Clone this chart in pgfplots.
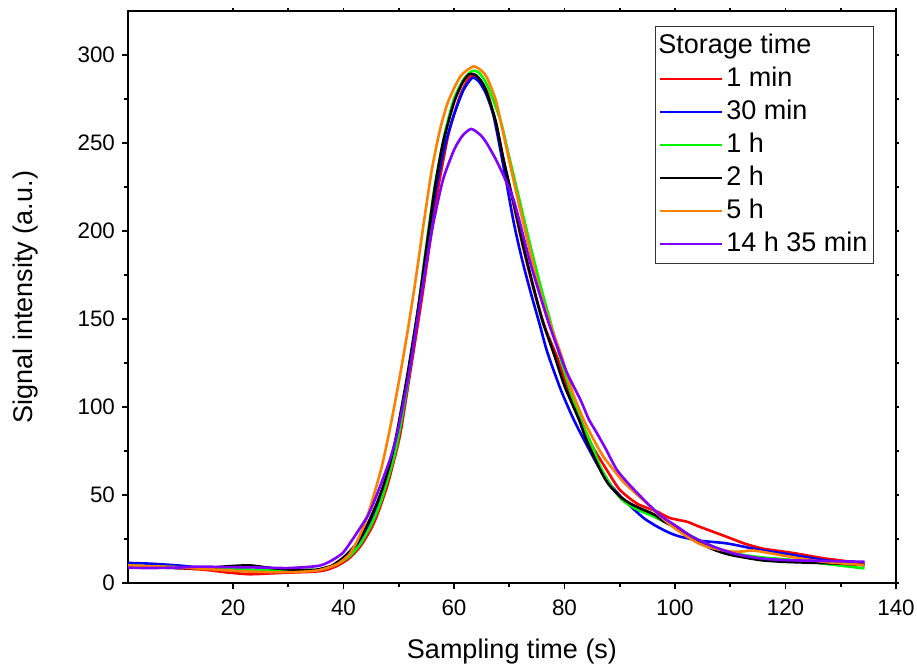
\documentclass[border=0pt]{standalone}
\usepackage{fontspec}
\setmainfont{Liberation Sans}
\usepackage{pgfplots}
\pgfplotsset{compat=1.18}
\definecolor{cRed}{RGB}{255,0,0}
\definecolor{cBlue}{RGB}{0,0,255}
\definecolor{cGreen}{RGB}{0,245,0}
\definecolor{cOrange}{RGB}{255,128,0}
\definecolor{cPurple}{RGB}{128,0,255}
\begin{document}
\begin{tikzpicture}
\begin{axis}[
  scale only axis, width=384pt, height=286pt,
  xmin=1, xmax=140, ymin=0, ymax=325,
  xtick={20,40,...,140}, ytick={0,50,...,300},
  minor x tick num=1, minor y tick num=1,
  tick pos=left, tick align=outside,
  major tick length=3pt, minor tick length=2pt,
  every tick/.style={black, line width=0.9pt},
  axis line style={line width=1pt},
  /pgf/number format/assume math mode=true,
  tick label style={font=\fontsize{11.2}{13}\selectfont},
  xticklabel style={yshift=-2pt},
  label style={font=\fontsize{13.5}{16}\selectfont},
  xlabel={Sampling time (s)}, ylabel={Signal intensity (a.u.)},
  xlabel style={at={(axis description cs:0.5,-0.1206)}, anchor=center},
  ylabel style={at={(axis description cs:-0.134,0.5)}, anchor=center},
  legend cell align=left,
  legend image code/.code={\draw[#1, line width=1.3pt] (0pt,0pt) -- (31pt,0pt);},
  legend style={at={(rel axis cs:1,1)}, anchor=north east, xshift=-11pt, yshift=-7.5pt,
    font=\fontsize{13.5}{16}\selectfont, draw=black!80, line width=0.6pt,
    inner sep=1.5pt, row sep=0pt,
    nodes={inner sep=1.5pt, text height=10.5pt, text depth=3pt}},
]
\addlegendimage{empty legend}
\addlegendentry{\hspace{-34pt}Storage time}
% 1 min
\addplot[cRed, line width=1.3pt, smooth, tension=0.4] coordinates {(1,10) (5,9.5) (10,8.5) (15,7.5) (19,6) (23,5) (27,5.5) (31,6) (35,6.5) (37,7.5) (39,10) (41,14) (43.1,21) (45.2,32) (46.5,42) (47.9,55) (49,68) (50.3,85) (52.1,120) (54.2,162) (55.5,190) (57,222) (59,255) (61,276) (62.5,286) (63.3,288) (64.5,286.5) (66,279) (67.5,262) (69,240) (70.8,215) (72.5,191) (74.4,167) (76.5,145) (78.7,128) (80.5,111) (82.9,93) (85,78) (87.7,64) (90,53) (93.2,45) (96.8,40.5) (99,37) (102.2,34.8) (104,32.5) (107,29) (110,25.5) (112.5,22.5) (116,19.5) (121.5,17) (127,14) (134.3,11.2)};
\addlegendentry{1 min}
% 30 min
\addplot[cBlue, line width=1.3pt, smooth, tension=0.4] coordinates {(1,11.4) (5,11) (10,10) (15,8.5) (20,7.5) (25,6.8) (30,6.4) (35,7.2) (37,8.5) (39,11.5) (41,16) (43,24) (45,35) (46.5,46) (47.8,58) (49,72) (50.3,90) (51.8,117) (53.3,150) (55,190) (56.7,223) (58.3,248) (60,266) (61.7,280) (63.3,287) (64.5,285) (65.8,278) (67.2,265) (69,236) (70.8,205) (72.3,184) (73.8,166) (75.5,147) (76.9,131) (79.3,110) (81.7,92.6) (84.1,78) (86,67) (88.3,56) (90.5,48) (92.5,42) (94.5,36.5) (96.8,32) (99,28.5) (101,26.3) (104.6,24) (109.4,22.5) (115.5,18.75) (121.5,15.9) (127,13) (134.3,10.2)};
\addlegendentry{30 min}
% 1 h
\addplot[cGreen, line width=1.3pt, smooth, tension=0.4] coordinates {(1,10) (5,9.5) (10,9) (15,8.5) (20,8) (25,7.5) (30,7.5) (35,7.5) (37,8.5) (39,11) (41,15) (43,22) (45,33) (46.5,44) (47.6,54.7) (49,70) (50,84) (51.7,115) (53.4,153) (55,192) (56.5,225) (58.3,255) (60,275) (61.7,286) (63.3,291) (64.5,290) (66,283) (68.4,263) (70,242) (72,215.7) (73.8,192) (75.7,168.4) (77.5,148) (79,130.5) (81,110) (82.9,92.6) (85,78) (86.5,66) (88.5,55) (90.5,47) (93,42) (96.2,37.7) (98.5,34) (101,30) (104,25) (107,20.6) (110,17.5) (112.5,15.9) (116,14.5) (121.5,13) (127,11) (134.3,8.3)};
\addlegendentry{1 h}
% 2 h
\addplot[black, line width=1.3pt, smooth, tension=0.4] coordinates {(1,9) (5,9) (10,8.5) (15,8.5) (19,9.5) (23,10) (27,8.5) (31,7.5) (35,7.5) (37,9) (38,10) (40,14.5) (42,21) (44,31) (46,45) (47.3,56) (48.5,69) (49.7,86) (51.5,117) (53.6,158) (55,190) (56.5,224) (58,250) (60,273) (61.5,284) (62.7,289) (64,288.5) (65.5,282) (67.5,263) (69,240) (70.8,216) (72.5,192) (74.4,168) (76,149) (78.1,130) (80,112) (82.6,93) (84,81) (86.5,64) (88,56) (90.1,49) (92,45) (94,42) (96.2,39) (98,35) (100.4,31) (103,25) (107,19) (110,16) (115.5,13) (120,12) (125,11.5) (130,11) (134.3,10.2)};
\addlegendentry{2 h}
% 5 h
\addplot[cOrange, line width=1.3pt, smooth, tension=0.4] coordinates {(1,10) (5,9.5) (10,9) (15,8) (20,7) (23,6.5) (27,6.2) (31,6.2) (35,7) (37,8.5) (39,11) (41,16) (42.5,24) (44,35) (45.5,50) (47,67) (48.5,89) (50,114) (51.5,141) (53,171) (54.5,204) (56,235) (57.5,258) (59,274) (61.2,288) (63.5,293.5) (65,291) (66,287) (67.5,275) (68.4,263) (70,240) (71.7,216) (73.5,192) (75.3,168.4) (77.3,148) (79.3,130.5) (81.5,108) (83.5,92.6) (85.3,81.3) (87,72) (88.9,64.2) (90.5,58) (92.5,52) (95,45) (97.4,37.7) (100,31) (102.2,26.3) (104,23) (105.8,20.6) (108,19) (110.6,17.8) (112.5,18) (114.2,18.5) (118,16.5) (121.5,14.6) (127,12) (134.3,10.2)};
\addlegendentry{5 h}
% 14 h 35 min
\addplot[cPurple, line width=1.3pt, smooth, tension=0.4] coordinates {(1,8.7) (5,8.5) (10,8.8) (14,9.3) (20,9) (25,8.8) (30,8.5) (35.2,9.6) (37,11.4) (38.5,14) (40,17.5) (41.9,26) (44.3,37.7) (45.5,46) (47,58) (48.5,71) (49.8,86) (51.8,118) (53.3,148) (55,182) (56.3,205) (58,229) (60,246) (61.5,254) (63.1,258) (64.8,254.5) (66,249.5) (68,238) (70.8,217.6) (73.8,182) (76.9,150) (78.7,134) (80.5,119.1) (82.9,104) (84.4,93) (85.9,85) (87.5,76) (89.5,64.2) (92,55) (95,45.3) (97.5,38) (100.4,32) (103,26.5) (107,20.6) (111,16.5) (115.5,14) (120,13) (127,12.5) (134.3,12.1)};
\addlegendentry{14 h 35 min}
\path (rel axis cs:0,0) ++(-64pt,-41pt) coordinate (bbll);
\path (rel axis cs:1,1) ++(10.5pt,5.5pt) coordinate (bbur);
\end{axis}
\begin{axis}[
  scale only axis, width=384pt, height=286pt,
  xmin=1, xmax=140, ymin=0, ymax=325,
  xtick={20,40,...,140}, ytick={0,50,...,300},
  minor x tick num=1, minor y tick num=1,
  tick pos=right, tick align=outside,
  major tick length=1.5pt, minor tick length=1.5pt,
  every tick/.style={black, line width=0.8pt},
  axis line style={draw=none},
  xticklabels={}, yticklabels={},
]
\end{axis}
\pgfresetboundingbox
\useasboundingbox (bbll) rectangle (bbur);
\end{tikzpicture}
\end{document}
